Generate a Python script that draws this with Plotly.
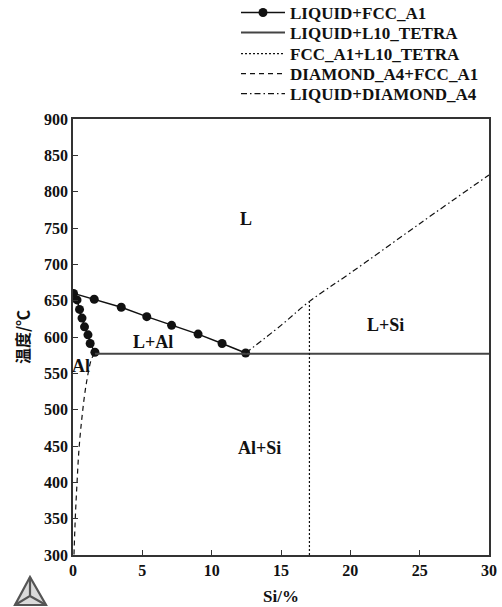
import plotly.graph_objects as go

# Al-Si binary phase diagram (Si content in %, temperature in °C)

# LIQUID+FCC_A1: solidus (Al side) up to the melting point, then liquidus down to the eutectic
solidus_x = [1.58, 1.24, 1.08, 0.83, 0.65, 0.47, 0.29, 0.04]
solidus_t = [579, 591, 603, 614, 626, 638, 651, 660]
liquidus_x = [0.04, 1.53, 3.48, 5.32, 7.11, 9.02, 10.75, 12.45]
liquidus_t = [660, 652, 641, 628, 616, 604, 591, 578]

# LIQUID+L10_TETRA: eutectic isotherm
eutectic_x = [1.58, 30]
eutectic_t = [577, 577]

# FCC_A1+L10_TETRA: vertical line
fcc_l10_x = [17.05, 17.05]
fcc_l10_t = [300, 649]

# DIAMOND_A4+FCC_A1: Si solvus in Al
solvus_x = [1.58, 1.36, 0.96, 0.65, 0.43, 0.29, 0.17, 0.07]
solvus_t = [577, 571, 536, 490, 445, 399, 353, 300]

# LIQUID+DIAMOND_A4: Si liquidus
si_liq_x = [12.45, 15.0, 17.05, 20.0, 25.0, 30.0]
si_liq_t = [578, 616, 649, 688, 756, 823]

# Phase region labels
region_labels = ["L", "L+Al", "L+Si", "Al+Si", "Al"]
region_x = [12.5, 5.75, 22.55, 13.45, 0.55]
region_t = [763, 593, 616, 447, 560]

x_ticks = [0, 5, 10, 15, 20, 25, 30]
y_ticks = list(range(300, 901, 50))

SERIF = "Liberation Serif"
INK = "#111111"

# plot area in pixels (for placing items outside the axes)
L_PX, R_PX, T_PX, B_PX = 73, 489, 119, 555


def px(x):
    return (x - L_PX) / (R_PX - L_PX)


def py(y):
    return (B_PX - y) / (B_PX - T_PX)


fig = go.Figure()

traces = [
    dict(x=solidus_x + liquidus_x[1:], y=solidus_t + liquidus_t[1:],
         mode="lines+markers", name="LIQUID+FCC_A1",
         line=dict(color=INK, width=1.5),
         marker=dict(color=INK, size=9, symbol="circle")),
    dict(x=eutectic_x, y=eutectic_t, mode="lines", name="LIQUID+L10_TETRA",
         line=dict(color="#444444", width=2)),
    dict(x=fcc_l10_x, y=fcc_l10_t, mode="lines", name="FCC_A1+L10_TETRA",
         line=dict(color=INK, width=1.2, dash="2px,2px")),
    dict(x=solvus_x, y=solvus_t, mode="lines", name="DIAMOND_A4+FCC_A1",
         line=dict(color=INK, width=1.2, dash="5px,4px", shape="spline")),
    dict(x=si_liq_x, y=si_liq_t, mode="lines", name="LIQUID+DIAMOND_A4",
         line=dict(color=INK, width=1.2, dash="6px,3px,1.5px,3px", shape="spline")),
]

# one legend per entry so the rows sit close together
legend_rows = [13, 33, 54, 74, 94]
legend_layout = {}
for i, (tr, row) in enumerate(zip(traces, legend_rows)):
    key = "legend" if i == 0 else f"legend{i + 1}"
    fig.add_trace(go.Scatter(**tr, legend=key))
    legend_layout[key] = dict(
        x=px(236), y=py(row), xanchor="left", yanchor="middle",
        bgcolor="rgba(0,0,0,0)", itemwidth=44, borderwidth=0,
        font=dict(family=SERIF, size=17, color=INK, weight="bold"),
    )

for txt, xv, tv in zip(region_labels, region_x, region_t):
    fig.add_annotation(x=xv, y=tv, text=txt, showarrow=False,
                       font=dict(family=SERIF, size=18, color=INK, weight="bold"))

# Small triangular logo in the lower left corner
logo = dict(type="path", xref="paper", yref="paper",
            line=dict(color="#555555", width=2.2))
fig.add_shape(**logo, fillcolor="rgba(150,150,150,0.35)",
              path=f"M {px(30)},{py(577)} L {px(15)},{py(605)} L {px(46)},{py(605)} Z")
fig.add_shape(**logo, path=f"M {px(30)},{py(577)} L {px(30)},{py(596)} L {px(15)},{py(605)} "
                           f"M {px(30)},{py(596)} L {px(46)},{py(605)}")

axis_common = dict(
    showline=True, linecolor="#333333", linewidth=1.5, mirror=True,
    ticks="inside", ticklen=5, tickcolor="#333333", tickwidth=1.2,
    showgrid=False, zeroline=False,
    tickfont=dict(family=SERIF, size=16, color=INK, weight="bold"),
)

fig.update_layout(
    width=502, height=607,
    margin=dict(l=L_PX, r=502 - R_PX, t=T_PX, b=607 - B_PX, autoexpand=False),
    paper_bgcolor="white", plot_bgcolor="white",
    xaxis=dict(range=[0, 30], tickvals=x_ticks, **axis_common,
               title=dict(text="Si/%", standoff=12,
                          font=dict(family=SERIF, size=17, color=INK, weight="bold"))),
    yaxis=dict(range=[300, 900], tickvals=y_ticks, **axis_common,
               title=dict(text="温度/℃", standoff=10,
                          font=dict(family="Noto Sans CJK SC", size=16, color=INK, weight="bold"))),
    showlegend=True,
    **legend_layout,
)

fig.write_html("out.html")
